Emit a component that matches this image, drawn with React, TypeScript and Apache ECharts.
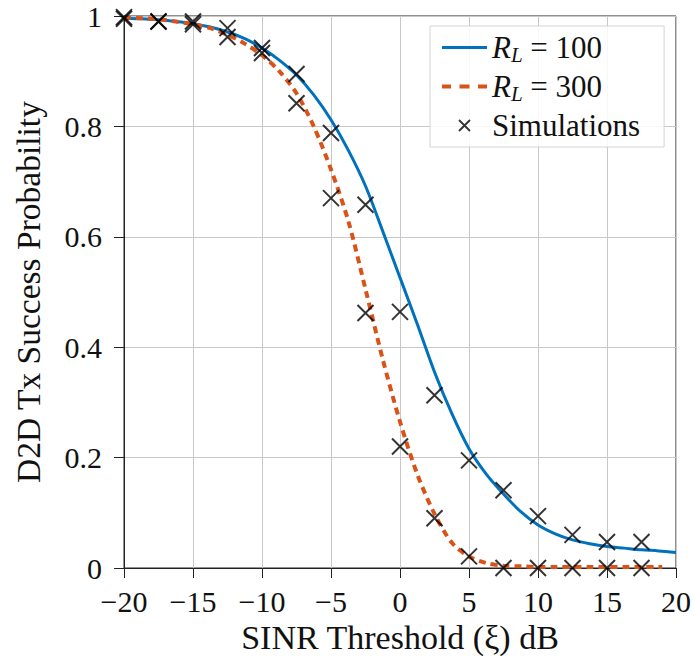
import React, { useEffect, useRef } from "react";
import * as echarts from "echarts";

const curveX100 = [-20, -18.75, -17.5, -16.25, -15, -13.75, -12.5, -11.25, -10, -8.75, -7.5, -6.25, -5, -3.75, -2.5, -1.25, 0, 1.25, 2.5, 3.75, 5, 6.25, 7.5, 8.75, 10, 11.25, 12.5, 13.75, 15, 16.25, 17.5, 18.75, 20];
const curveY100 = [0.996, 0.995, 0.993, 0.99, 0.986, 0.98, 0.971, 0.959, 0.942, 0.92, 0.893, 0.857, 0.812, 0.757, 0.692, 0.61, 0.526, 0.442, 0.355, 0.28, 0.216, 0.17, 0.134, 0.102, 0.078, 0.062, 0.051, 0.044, 0.039, 0.036, 0.033, 0.031, 0.028];

const curveX300 = [-20, -18.75, -17.5, -16.25, -15, -13.75, -12.5, -11.25, -10, -8.75, -7.5, -6.25, -5, -3.75, -2.5, -1.25, 0, 1.25, 2.5, 3.75, 5, 6.25, 7.5, 8.75, 10, 11.25, 12.5, 13.75, 15, 16.25, 17.5, 18.75, 19];
const curveY300 = [0.997, 0.996, 0.994, 0.99, 0.985, 0.978, 0.966, 0.95, 0.929, 0.9, 0.86, 0.8, 0.722, 0.629, 0.505, 0.378, 0.265, 0.17, 0.098, 0.046, 0.021, 0.009, 0.004, 0.003, 0.002, 0.002, 0.002, 0.002, 0.002, 0.002, 0.002, 0.002, 0.002];

const simX = [-20, -17.5, -15, -12.5, -10, -7.5, -5, -2.5, 0, 2.5, 5, 7.5, 10, 12.5, 15, 17.5];
const simY100 = [0.995, 0.99, 0.99, 0.978, 0.942, 0.895, 0.788, 0.658, 0.464, 0.313, 0.195, 0.141, 0.094, 0.06, 0.047, 0.047];
const simY300 = [0.998, 0.99, 0.985, 0.962, 0.933, 0.842, 0.67, 0.462, 0.22, 0.09, 0.021, 0, 0, 0, 0, 0];

const xTicks = { min: -20, max: 20, interval: 5 };
const yTicks = { min: 0, max: 1, interval: 0.2 };

const FONT = "Liberation Serif";
const BLUE = "#0072BD";
const ORANGE = "#D95319";

export default function App() {
  const ref = useRef<HTMLDivElement>(null);
  useEffect(() => {
    if (!ref.current) return;
    const chart = echarts.init(ref.current, undefined, { renderer: "svg" });
    const zip = (xs: number[], ys: number[]) => xs.map((x, i) => [x, ys[i]]);
    const simData = [...zip(simX, simY100), ...zip(simX, simY300)];
    const legendRich = {
      it: { fontFamily: FONT, fontSize: 31, fontStyle: "italic", color: "#111" },
      sub: { fontFamily: FONT, fontSize: 21, fontStyle: "italic", color: "#111", padding: [14, 0, 0, 0] },
      n: { fontFamily: FONT, fontSize: 31, color: "#111" },
    };
    chart.setOption({
      animation: false,
      backgroundColor: "#fff",
      grid: { left: 124, right: 17, top: 16, bottom: 98, show: true, borderColor: "#222", borderWidth: 1 },
      xAxis: {
        type: "value",
        min: xTicks.min,
        max: xTicks.max,
        interval: xTicks.interval,
        name: "SINR Threshold (\u03BE) dB",
        nameLocation: "middle",
        nameGap: 39,
        nameTextStyle: { fontFamily: FONT, fontSize: 34, color: "#111" },
        axisLine: { show: true, onZero: false, lineStyle: { color: "#222", width: 1 } },
        axisTick: { show: true, length: 10, inside: false, lineStyle: { color: "#222" } },
        axisLabel: {
          margin: 18,
          fontFamily: FONT,
          fontSize: 30,
          color: "#111",
          showMinLabel: true,
          showMaxLabel: true,
          formatter: (v: number) => (v < 0 ? "\u2212" + Math.abs(v) : String(v)),
        },
        splitLine: { show: true, lineStyle: { color: "#c8c8c8", width: 1 } },
      },
      yAxis: {
        type: "value",
        min: yTicks.min,
        max: yTicks.max,
        interval: yTicks.interval,
        name: "D2D Tx Success Probability",
        nameLocation: "middle",
        nameGap: 79,
        nameTextStyle: { fontFamily: FONT, fontSize: 33.5, color: "#111" },
        axisLine: { show: true, onZero: false, lineStyle: { color: "#222", width: 1 } },
        axisTick: { show: true, length: 10, inside: false, lineStyle: { color: "#222" } },
        axisLabel: {
          margin: 22,
          fontFamily: FONT,
          fontSize: 30,
          color: "#111",
          showMinLabel: true,
          showMaxLabel: true,
          formatter: (v: number) => (v === 0 ? "0" : v === 1 ? "1" : v.toFixed(1)),
        },
        splitLine: { show: true, lineStyle: { color: "#c8c8c8", width: 1 } },
      },
      legend: {
        orient: "vertical",
        left: 430,
        top: 26,
        padding: [6, 24, 6, 10],
        itemGap: 6,
        itemWidth: 45,
        itemHeight: 14,
        backgroundColor: "rgba(255,255,255,0.85)",
        borderColor: "#d4d4d4",
        borderWidth: 1,
        borderRadius: 0,
        textStyle: { fontFamily: FONT, fontSize: 31, color: "#111", rich: legendRich },
        formatter: (name: string) => {
          if (name === "RL100") return "{it|R}{sub|L}{n| = 100}";
          if (name === "RL300") return "{it|R}{sub|L}{n| = 300}";
          return "{n|" + name + "}";
        },
        data: [
          {
            name: "RL100",
            icon: "path://M0,0M45,14M0,7L45,7",
            itemStyle: { color: "transparent", borderColor: BLUE, borderWidth: 3 },
          },
          {
            name: "RL300",
            icon: "path://M0,0M45,14M0,7L9,7M17.5,7L27.5,7M36,7L45,7",
            itemStyle: { color: "transparent", borderColor: ORANGE, borderWidth: 4 },
          },
          {
            name: "Simulations",
            icon: "path://M0,0M45,14M17,1.5L28,12.5M28,1.5L17,12.5",
            itemStyle: { color: "transparent", borderColor: "#000", borderWidth: 1.8 },
          },
        ],
      },
      series: [
        {
          name: "RL100",
          type: "line",
          data: zip(curveX100, curveY100),
          smooth: 0.3,
          symbol: "none",
          showSymbol: false,
          lineStyle: { color: BLUE, width: 3 },
          itemStyle: { color: BLUE },
          z: 2,
        },
        {
          name: "RL300",
          type: "line",
          data: zip(curveX300, curveY300),
          smooth: 0.3,
          symbol: "none",
          showSymbol: false,
          lineStyle: { color: ORANGE, width: 4, type: [7, 5] },
          itemStyle: { color: ORANGE },
          z: 3,
        },
        {
          name: "Simulations",
          type: "scatter",
          data: simData,
          symbol: "path://M0,0L10,10M10,0L0,10",
          symbolSize: 16,
          itemStyle: { color: "#000", borderColor: "#000", borderWidth: 2 },
          z: 4,
        },
      ],
    });
    return () => chart.dispose();
  }, []);
  return <div ref={ref} style={{ position: "fixed", left: 0, top: 0, width: 694, height: 666 }} />;
}
